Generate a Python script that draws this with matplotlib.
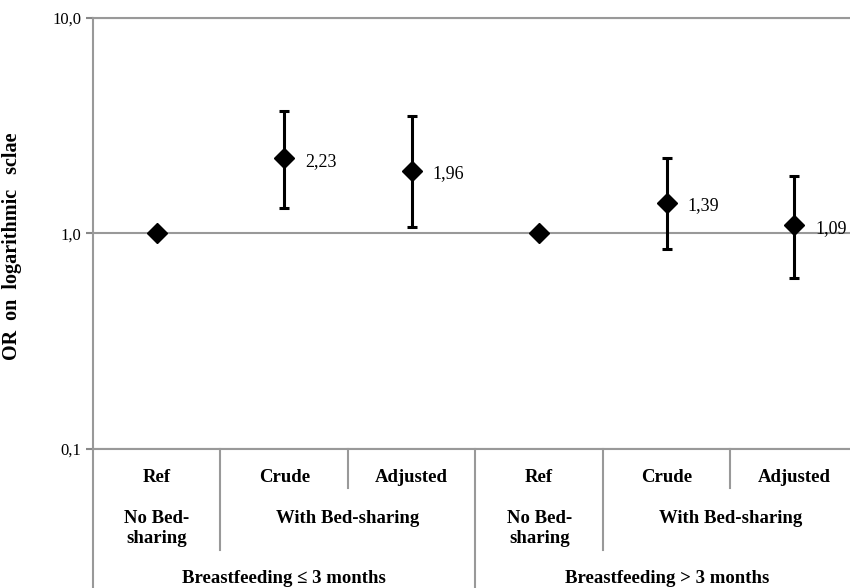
import matplotlib.pyplot as plt
import numpy as np

# values
estimate_labels = ['Ref', 'Crude', 'Adjusted', 'Ref', 'Crude', 'Adjusted']
odds_ratio = [1.0, 2.23, 1.96, 1.0, 1.39, 1.09]
ci_low = [1.0, 1.32, 1.07, 1.0, 0.85, 0.62]
ci_high = [1.0, 3.71, 3.52, 1.0, 2.25, 1.85]
value_labels = ['', '2,23', '1,96', '', '1,39', '1,09']
exposure_labels = ['No Bed-\nsharing', 'With Bed-sharing', 'No Bed-\nsharing', 'With Bed-sharing']
exposure_span = [(0, 0), (1, 2), (3, 3), (4, 5)]
group_labels = ['Breastfeeding \u2264 3 months', 'Breastfeeding > 3 months']
group_span = [(0, 2), (3, 5)]

plt.rcParams['font.family'] = ['Liberation Serif', 'DejaVu Serif']

fig = plt.figure(figsize=(8.5, 5.88), dpi=100)
ax = fig.add_axes([0.1094, 0.2364, 0.9, 0.733])

x = np.arange(len(odds_ratio))
y = np.array(odds_ratio)
has_ci = np.array(ci_high) > np.array(ci_low)
yerr = np.vstack([y - np.array(ci_low), np.array(ci_high) - y])

ax.errorbar(x[has_ci], y[has_ci], yerr=yerr[:, has_ci], fmt='none', ecolor='black',
            elinewidth=2.2, capsize=3.5, capthick=2.2, zorder=3)
ax.plot(x, y, 'D', color='black', markersize=10.5, zorder=4)

for xi, yi, lab in zip(x, y, value_labels):
    if lab:
        ax.annotate(lab, (xi, yi), xytext=(15, -2), textcoords='offset points',
                    fontsize=13, va='center', ha='left')

ax.set_yscale('log')
ax.set_ylim(0.1, 10)
ax.set_xlim(-0.5, 5.5)
ax.set_yticks([0.1, 1, 10])
ax.set_yticklabels(['0,1', '1,0', '10,0'], fontsize=12)
ax.minorticks_off()
ax.yaxis.set_minor_locator(plt.NullLocator())
ax.set_xticks([])
ax.tick_params(axis='y', length=5, color='#888888', width=1.5)
ax.grid(axis='y', which='major', color='#999999', linewidth=1.5)
ax.set_axisbelow(True)
for side in ['left', 'bottom', 'top']:
    ax.spines[side].set_color('#999999')
    ax.spines[side].set_linewidth(1.5)
ax.spines['right'].set_visible(False)

ax.set_ylabel('OR  on  logarithmic   sclae', fontsize=14.5, fontweight='bold', labelpad=16)
ax.yaxis.set_label_coords(-0.093, 0.47)

# category table below the axis
tr = ax.get_xaxis_transform()
for xi, lab in zip(x, estimate_labels):
    ax.text(xi, -0.065, lab, transform=tr, ha='center', va='center',
            fontsize=13.5, fontweight='bold')
for (a, b), lab in zip(exposure_span, exposure_labels):
    ax.text((a + b) / 2, -0.142, lab, transform=tr, ha='center', va='top',
            fontsize=13.5, fontweight='bold', linespacing=1.25)
for (a, b), lab in zip(group_span, group_labels):
    ax.text((a + b) / 2, -0.30, lab, transform=tr, ha='center', va='center',
            fontsize=13.5, fontweight='bold')

sep_depth = {0: -0.235, 1: -0.09, 2: -0.33, 3: -0.235, 4: -0.09}
for i, d in sep_depth.items():
    ax.plot([i + 0.5, i + 0.5], [0, d], transform=tr, color='#999999',
            linewidth=1.5, clip_on=False)
ax.plot([-0.5, -0.5], [0, -0.33], transform=tr, color='#999999',
        linewidth=1.5, clip_on=False)

fig.savefig('out.png', dpi=100)
